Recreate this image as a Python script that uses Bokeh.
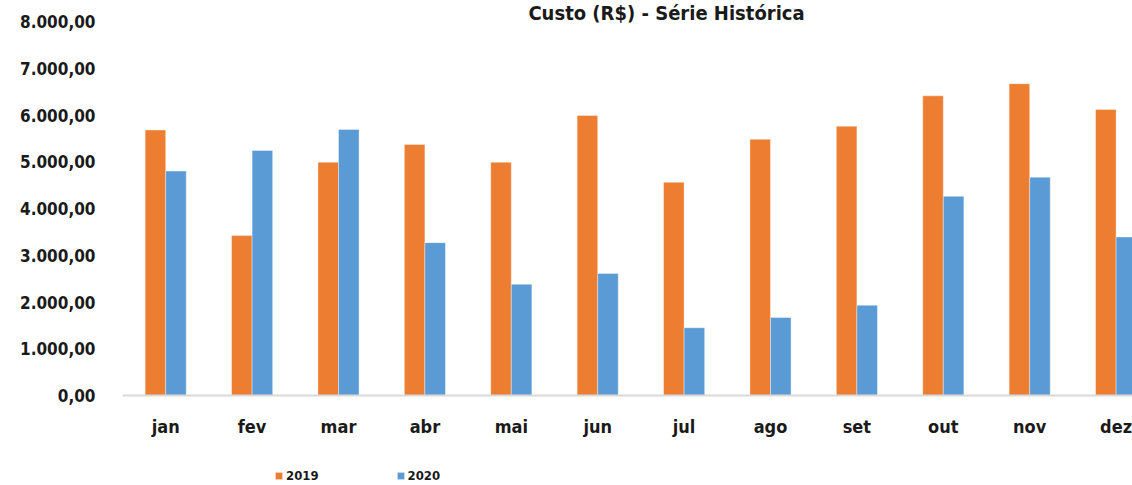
from bokeh.plotting import figure
from bokeh.models import Range1d, FixedTicker, Legend, LegendItem, Label, ColumnDataSource
from bokeh.embed import file_html
from bokeh.resources import INLINE

# ---- data ----
months = ["jan", "fev", "mar", "abr", "mai", "jun", "jul", "ago", "set", "out", "nov", "dez"]
custo_2019 = [5680, 3420, 4990, 5370, 4990, 5990, 4560, 5480, 5760, 6410, 6670, 6120]
custo_2020 = [4800, 5240, 5690, 3270, 2380, 2610, 1450, 1670, 1930, 4260, 4670, 3390]
y_ticks = [0, 1000, 2000, 3000, 4000, 5000, 6000, 7000, 8000]
y_tick_labels = ["0,00", "1.000,00", "2.000,00", "3.000,00", "4.000,00",
                 "5.000,00", "6.000,00", "7.000,00", "8.000,00"]
series_names = ["2019", "2020"]
title_text = "Custo (R$) - Série Histórica"

FONT = "DejaVu Sans Condensed"
ORANGE = "#ED7D31"
BLUE = "#5B9BD5"
BAR_W = 0.238
PX_PER_UNIT = 374 / 8000  # frame pixels per data unit on y

centers = [i + 0.5 for i in range(len(months))]
src = ColumnDataSource(dict(
    x19=[c - BAR_W / 2 for c in centers],
    x20=[c + BAR_W / 2 for c in centers],
    v19=custo_2019,
    v20=custo_2020,
))

# frame fills the canvas height; 8000 sits 21px below the top, 0 sits 90px above the bottom
p = figure(width=1132, height=485, output_backend="svg", toolbar_location=None,
           x_range=Range1d(0, 1010 / 86.4),
           y_range=Range1d(-90 / PX_PER_UNIT, 8000 + 21 / PX_PER_UNIT),
           min_border_left=122, min_border_right=0, min_border_top=0,
           min_border_bottom=0)
p.outline_line_color = None
p.xgrid.grid_line_color = None
p.ygrid.grid_line_color = None
p.background_fill_color = "white"

r19 = p.vbar(x="x19", top="v19", bottom=0, width=BAR_W, source=src, fill_color=ORANGE,
             line_color="white", line_alpha=0.5, line_width=0.75)
r20 = p.vbar(x="x20", top="v20", bottom=0, width=BAR_W, source=src, fill_color=BLUE,
             line_color="white", line_alpha=0.5, line_width=0.75)

# y axis
p.yaxis.ticker = FixedTicker(ticks=y_ticks)
p.yaxis.major_label_overrides = {t: lab for t, lab in zip(y_ticks, y_tick_labels)}
p.yaxis.axis_line_color = None
p.yaxis.major_tick_line_color = None
p.yaxis.minor_tick_line_color = None
p.yaxis.major_tick_out = 0
p.yaxis.major_label_standoff = 27
p.yaxis.major_label_text_font = FONT
p.yaxis.major_label_text_font_size = "17px"
p.yaxis.major_label_text_font_style = "bold"
p.yaxis.major_label_text_color = "#1a1a1a"

# x axis, pinned at value 0
p.xaxis.fixed_location = 0
p.xaxis.ticker = FixedTicker(ticks=centers)
p.xaxis.major_label_overrides = {c: m for c, m in zip(centers, months)}
p.xaxis.axis_line_color = "#d9d9d9"
p.xaxis.axis_line_width = 2
p.xaxis.major_tick_line_color = None
p.xaxis.minor_tick_line_color = None
p.xaxis.major_tick_out = 0
p.xaxis.major_label_standoff = 20
p.xaxis.major_label_text_font = FONT
p.xaxis.major_label_text_font_size = "18px"
p.xaxis.major_label_text_font_style = "bold"
p.xaxis.major_label_text_color = "#1a1a1a"

# title
title = Label(x=666 - 122, x_units="screen", y=8000 + 21 / PX_PER_UNIT, text=title_text,
              text_align="center", text_baseline="top",
              text_font=FONT, text_font_size="20px", text_font_style="bold",
              text_color="#1a1a1a")
p.add_layout(title)

legend = Legend(items=[LegendItem(label=series_names[0], renderers=[r19]),
                       LegendItem(label=series_names[1], renderers=[r20])],
                orientation="horizontal", location=(152, 2),
                glyph_width=9, glyph_height=9, label_standoff=3, spacing=77,
                padding=0, margin=0, border_line_color=None,
                background_fill_alpha=0,
                label_text_font=FONT, label_text_font_size="13px",
                label_text_font_style="bold", label_text_color="#1a1a1a")
p.add_layout(legend, "center")

open("out.html", "w").write(file_html(p, INLINE))
